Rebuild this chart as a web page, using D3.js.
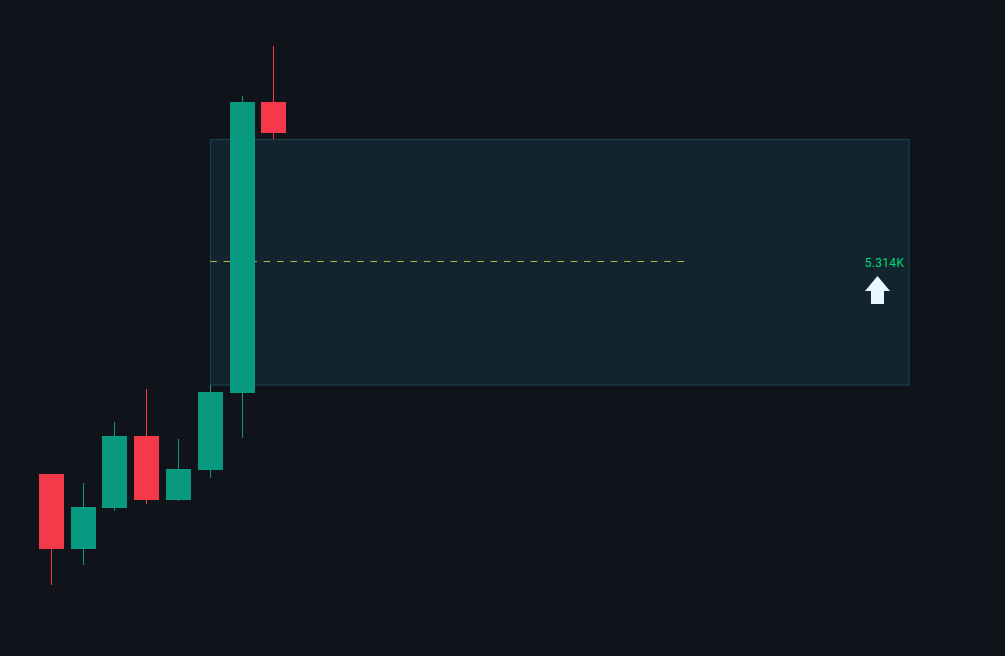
<!DOCTYPE html>
<html>
<head>
<meta charset="utf-8">
<script src="https://cdn.jsdelivr.net/npm/d3@7"></script>
<style>
  html, body { margin: 0; padding: 0; background: #10131a; }
  svg { display: block; }
</style>
</head>
<body>
<div id="chart"></div>
<script>
// candle values
const bars = [0, 1, 2, 3, 4, 5, 6, 7];
const opens = [182, 107, 148, 220, 156, 186, 263, 554];
const closes = [107, 149, 220, 156, 187, 264, 554, 523];
const highs = [182, 173, 234, 267, 217, 271, 560, 610];
const lows = [71, 91, 145, 152, 155, 178, 218, 517];

// the zone box and its label
const zoneBars = [5, 26.97];
const zonePrices = [517, 271.5];
const midBars = [5, 20];
const midPrice = [394.5];
const zoneLabel = ["5.314K"];
const arrowPrice = [380];

const width = 1005;
const height = 656;
const bodyWidth = 25;

const upColor = "#089981";
const downColor = "#f43a4a";

const x = d3.scaleLinear().domain([0, 27]).range([51.3, 909.9]);
const y = d3.scaleLinear().domain([0, 656]).range([656, 0]);

const svg = d3.select("#chart")
  .append("svg")
  .attr("width", width)
  .attr("height", height);

svg.append("rect")
  .attr("width", width)
  .attr("height", height)
  .attr("fill", "#10131a");

// zone
svg.append("rect")
  .attr("x", x(zoneBars[0]) + 0.2)
  .attr("y", y(zonePrices[0]) + 0.5)
  .attr("width", x(zoneBars[1]) - x(zoneBars[0]))
  .attr("height", y(zonePrices[1]) - y(zonePrices[0]))
  .attr("fill", "#12252f")
  .attr("stroke", "#1a424d")
  .attr("stroke-width", 1.1);

// dashed mid line, under the candles
svg.append("line")
  .attr("x1", x(midBars[0]))
  .attr("x2", x(midBars[1]))
  .attr("y1", y(midPrice[0]))
  .attr("y2", y(midPrice[0]))
  .attr("stroke", "#b5b84a")
  .attr("stroke-width", 1)
  .attr("stroke-dasharray", "6.5 6.85");

const color = i => (opens[i] > closes[i] ? downColor : upColor);

svg.selectAll(".wick")
  .data(bars)
  .enter()
  .append("line")
  .attr("class", "wick")
  .attr("x1", i => Math.floor(x(i)) + 0.5)
  .attr("x2", i => Math.floor(x(i)) + 0.5)
  .attr("y1", i => y(highs[i]))
  .attr("y2", i => y(lows[i]))
  .attr("stroke", color)
  .attr("stroke-width", 1);

svg.selectAll(".body")
  .data(bars)
  .enter()
  .append("rect")
  .attr("class", "body")
  .attr("x", i => Math.round(x(i) - bodyWidth / 2))
  .attr("y", i => y(Math.max(opens[i], closes[i])))
  .attr("width", bodyWidth)
  .attr("height", i => Math.abs(opens[i] - closes[i]))
  .attr("fill", color);

// label and arrow
svg.append("text")
  .attr("x", 884.5)
  .attr("y", 267)
  .attr("text-anchor", "middle")
  .attr("font-family", "Roboto, sans-serif")
  .attr("font-size", 12)
  .attr("letter-spacing", 0.3)
  .attr("fill", "#00d672")
  .text(zoneLabel[0]);

const arrow = d3.path();
arrow.moveTo(0, -28);
arrow.lineTo(12.5, -13);
arrow.lineTo(6.5, -13);
arrow.lineTo(6.5, 0);
arrow.lineTo(-6.5, 0);
arrow.lineTo(-6.5, -13);
arrow.lineTo(-12.5, -13);
arrow.closePath();

svg.append("path")
  .attr("d", arrow.toString())
  .attr("transform", `translate(877.5, ${y(arrowPrice[0]) + 28})`)
  .attr("fill", "#eaf8ff");
</script>
</body>
</html>
